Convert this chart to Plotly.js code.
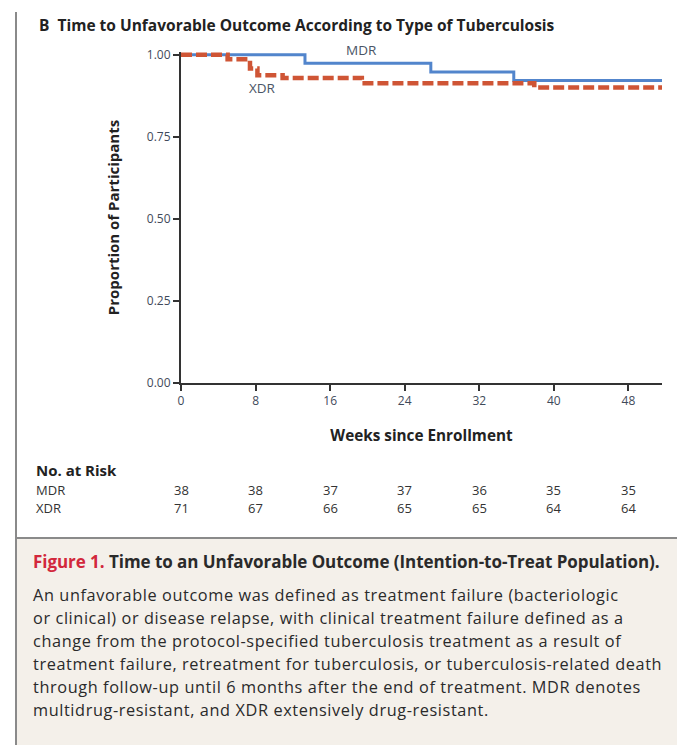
<!DOCTYPE html>
<html>
<head>
<meta charset="utf-8">
<script src="https://cdn.plot.ly/plotly-3.0.1.min.js"></script>
<style>
  html, body { margin: 0; padding: 0; background: #fff; }
  #wrap { position: relative; width: 677px; height: 745px; overflow: hidden; }
  #chart { position: absolute; left: 0; top: 0; width: 677px; height: 745px; }
  #leftbar { position: absolute; left: 15px; top: 12px; width: 2px; height: 733px; background: #8a8a8a; z-index: 3; }
  #caption { position: absolute; left: 16px; top: 537px; width: 661px; height: 208px; background: #f4f0ea;
             border-top: 2px solid #8a8a8a; z-index: 2; box-sizing: border-box; color: #222; }
  #caption .head { position: absolute; left: 17px; top: 12px; line-height: 22px; font-family: "Open Sans", "Noto Sans", sans-serif;
             font-weight: bold; font-size: 17px; white-space: nowrap; letter-spacing: -0.05px; color: #2a2a2a; }
  #caption .head .fig { color: #d2283c; }
  #caption .body { position: absolute; left: 17px; top: 45px; font-family: "Open Sans", "Noto Sans", sans-serif; font-size: 16.3px;
             line-height: 23px; white-space: nowrap; color: #2a2a2a; letter-spacing: 0.6px; }
</style>
</head>
<body>
<div id="wrap">
  <div id="chart"></div>
  <div id="leftbar"></div>
  <div id="caption">
    <div class="head"><span class="fig">Figure 1.</span> Time to an Unfavorable Outcome (Intention-to-Treat Population).</div>
    <div class="body">An unfavorable outcome was defined as treatment failure (bacteriologic<br>or clinical) or disease relapse, with clinical treatment failure defined as a<br>change from the protocol-specified tuberculosis treatment as a result of<br>treatment failure, retreatment for tuberculosis, or tuberculosis-related death<br>through follow-up until 6 months after the end of treatment. MDR denotes<br>multidrug-resistant, and XDR extensively drug-resistant.</div>
  </div>
</div>
<script>
// ---- data ----
const mdrWeeks = [0, 13.3, 26.8, 35.7, 51.8];
const mdrProp  = [1.0, 0.974, 0.947, 0.921, 0.921];
const xdrWeeks = [0, 5.0, 7.4, 8.2, 10.9, 19.4, 37.9, 51.8];
const xdrProp  = [1.0, 0.986, 0.958, 0.937, 0.929, 0.913, 0.900, 0.900];
const riskWeeks = [0, 8, 16, 24, 32, 40, 48];
const mdrAtRisk = [38, 38, 37, 37, 36, 35, 35];
const xdrAtRisk = [71, 67, 66, 65, 65, 64, 64];
const yTickVals = [0, 0.25, 0.5, 0.75, 1.0];
const yTickText = ["0.00", "0.25", "0.50", "0.75", "1.00"];
const xTickVals = [0, 8, 16, 24, 32, 40, 48];

// ---- layout geometry (pixels) ----
const W = 677, H = 745;
const L = 181, R = 662, B = 383;
const YTOP = 1.008;                 // a little headroom so the 1.00 line is not clipped
const T = 55 - (YTOP - 1) * 328;    // pixel where range top sits
const px = x => (x - L) / (R - L);
const py = y => (B - y) / (B - T);

const fam = '"Open Sans", "Noto Sans", sans-serif';
const tickColor = '#3f4a5a';

const traces = [
  { x: mdrWeeks, y: mdrProp, type: 'scatter', mode: 'lines', name: 'MDR', cliponaxis: false,
    line: { shape: 'hv', color: '#5285cc', width: 3 }, hoverinfo: 'skip' },
  { x: xdrWeeks, y: xdrProp, type: 'scatter', mode: 'lines', name: 'XDR', cliponaxis: false,
    line: { shape: 'hv', color: '#cf5535', width: 4.5, dash: '11px,4px' }, hoverinfo: 'skip' }
];

const ann = [];
ann.push({ xref: 'paper', yref: 'paper', x: px(37), y: py(25), xanchor: 'left', yanchor: 'middle',
  text: '<b>B</b>  <b>Time to Unfavorable Outcome According to Type of Tuberculosis</b>', showarrow: false,
  font: { family: fam, size: 15.5, color: '#222' } });
ann.push({ xref: 'x', yref: 'paper', x: 19.4, y: py(50), xanchor: 'center', yanchor: 'middle',
  text: 'MDR', showarrow: false, font: { family: fam, size: 13.5, color: '#4a5566' } });
ann.push({ xref: 'x', yref: 'paper', x: 8.7, y: py(88), xanchor: 'center', yanchor: 'middle',
  text: 'XDR', showarrow: false, font: { family: fam, size: 13.5, color: '#4a5566' } });
ann.push({ xref: 'paper', yref: 'paper', x: px(34), y: py(470), xanchor: 'left', yanchor: 'middle',
  text: '<b>No. at Risk</b>', showarrow: false, font: { family: fam, size: 15, color: '#222' } });
ann.push({ xref: 'paper', yref: 'paper', x: px(34), y: py(490), xanchor: 'left', yanchor: 'middle',
  text: 'MDR', showarrow: false, font: { family: fam, size: 13, color: '#333' } });
ann.push({ xref: 'paper', yref: 'paper', x: px(34), y: py(508), xanchor: 'left', yanchor: 'middle',
  text: 'XDR', showarrow: false, font: { family: fam, size: 13, color: '#333' } });
riskWeeks.forEach((w, i) => {
  ann.push({ xref: 'x', yref: 'paper', x: w, y: py(490), xanchor: 'center', yanchor: 'middle',
    text: String(mdrAtRisk[i]), showarrow: false, font: { family: fam, size: 13, color: '#333' } });
  ann.push({ xref: 'x', yref: 'paper', x: w, y: py(508), xanchor: 'center', yanchor: 'middle',
    text: String(xdrAtRisk[i]), showarrow: false, font: { family: fam, size: 13, color: '#333' } });
});

const layout = {
  width: W, height: H,
  margin: { l: L, r: W - R, t: T, b: H - B, pad: 0 },
  paper_bgcolor: '#fff', plot_bgcolor: '#fff',
  showlegend: false,
  xaxis: {
    range: [0, 51.6], tickvals: xTickVals, ticks: 'outside', ticklen: 6, tickwidth: 2, tickcolor: '#333',
    showline: true, linecolor: '#333', linewidth: 2, showgrid: false, zeroline: false,
    tickfont: { family: fam, size: 12, color: tickColor },
    title: { text: '<b>Weeks since Enrollment</b>', font: { family: fam, size: 15.3, color: '#222' }, standoff: 22 },
    fixedrange: true
  },
  yaxis: {
    range: [0, YTOP], tickvals: yTickVals, ticktext: yTickText, ticks: 'outside', ticklen: 6, tickwidth: 2, tickcolor: '#333',
    showline: true, linecolor: '#333', linewidth: 2, showgrid: false, zeroline: false,
    tickfont: { family: fam, size: 12, color: tickColor },
    title: { text: '<b>Proportion of Participants</b>', font: { family: fam, size: 15, color: '#222' }, standoff: 24 },
    fixedrange: true
  },
  annotations: ann
};

Plotly.newPlot('chart', traces, layout, { staticPlot: true, displayModeBar: false });
</script>
</body>
</html>
